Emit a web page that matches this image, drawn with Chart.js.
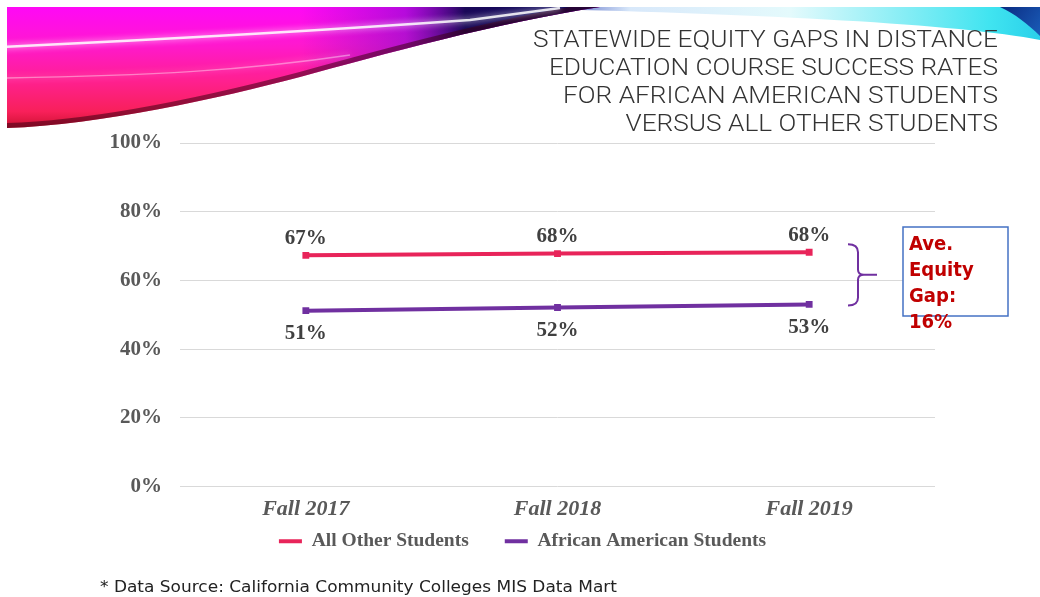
<!DOCTYPE html>
<html>
<head>
<meta charset="utf-8">
<script src="https://cdn.jsdelivr.net/npm/chart.js@4.4.0/dist/chart.umd.min.js"></script>
<style>
  html, body { margin: 0; padding: 0; background: #fff; overflow: hidden; }
</style>
</head>
<body>
<canvas id="chart" width="1040" height="597"></canvas>
<script>
// data
const categories = ['Fall 2017', 'Fall 2018', 'Fall 2019'];
const allOtherStudents = [67.3, 67.8, 68.2];
const africanAmericanStudents = [51.2, 52.1, 53.0];
const yTickStep = 20;
const titleLines = [
    'STATEWIDE EQUITY GAPS IN DISTANCE',
    'EDUCATION COURSE SUCCESS RATES',
    'FOR AFRICAN AMERICAN STUDENTS',
    'VERSUS ALL OTHER STUDENTS'
];
const gapLines = ['Ave.', 'Equity', 'Gap:', '16%'];
const sourceNote = '* Data Source: California Community Colleges MIS Data Mart';

const serif = '"Liberation Serif", "Times New Roman", serif';
const sans = '"DejaVu Sans", sans-serif';

// draw text squeezed/stretched horizontally
function fitText(ctx, text, x, y, scale) {
    ctx.save();
    ctx.translate(x, y);
    ctx.scale(scale, 1);
    ctx.fillText(text, 0, 0);
    ctx.restore();
}

function swooshEdge(ctx) {
    ctx.bezierCurveTo(500, 22, 380, 55, 300, 77);
    ctx.bezierCurveTo(220, 98, 100, 125, 7, 128);
}

// the coloured ribbon across the top of the slide
function drawBanner(ctx) {
    ctx.save();
    ctx.fillStyle = '#fff';
    ctx.fillRect(0, 0, 1040, 597);

    // thin light ribbon going right, cyan at the end
    let g = ctx.createLinearGradient(540, 0, 1040, 0);
    g.addColorStop(0, '#2a3cb0');
    g.addColorStop(0.18, '#d8e8fa');
    g.addColorStop(0.5, '#e4fafc');
    g.addColorStop(0.9, '#40e4f0');
    g.addColorStop(1, '#2ad0ea');
    ctx.fillStyle = g;
    ctx.beginPath();
    ctx.moveTo(540, 7);
    ctx.lineTo(1040, 7);
    ctx.lineTo(1040, 40);
    ctx.bezierCurveTo(960, 24, 760, 14, 540, 9);
    ctx.fill();

    // dark blue corner
    g = ctx.createLinearGradient(1000, 7, 1040, 36);
    g.addColorStop(0, '#0a2a80');
    g.addColorStop(1, '#1a5cb8');
    ctx.fillStyle = g;
    ctx.beginPath();
    ctx.moveTo(1000, 7);
    ctx.lineTo(1040, 7);
    ctx.lineTo(1040, 36);
    ctx.bezierCurveTo(1028, 24, 1015, 14, 1000, 7);
    ctx.fill();

    // main pink ribbon
    ctx.beginPath();
    ctx.moveTo(7, 7);
    ctx.lineTo(600, 7);
    swooshEdge(ctx);
    ctx.closePath();
    ctx.save();
    ctx.clip();
    g = ctx.createLinearGradient(0, 7, 0, 130);
    g.addColorStop(0, '#ff08f6');
    g.addColorStop(0.3, '#ff18d0');
    g.addColorStop(0.6, '#ff2090');
    g.addColorStop(0.85, '#f8205a');
    g.addColorStop(1, '#c8102c');
    ctx.fillStyle = g;
    ctx.fillRect(0, 0, 620, 140);
    // purple to navy toward the right
    g = ctx.createLinearGradient(300, 0, 600, 0);
    g.addColorStop(0, 'rgba(120,10,200,0)');
    g.addColorStop(0.35, 'rgba(110,10,200,0.5)');
    g.addColorStop(0.55, 'rgba(14,8,80,0.95)');
    g.addColorStop(1, '#0a0a60');
    ctx.fillStyle = g;
    ctx.fillRect(0, 0, 620, 140);
    // dark lower edge
    ctx.strokeStyle = 'rgba(60,0,20,0.55)';
    ctx.lineWidth = 10;
    ctx.beginPath();
    ctx.moveTo(600, 7);
    swooshEdge(ctx);
    ctx.stroke();
    // white light streaks
    ctx.strokeStyle = 'rgba(255,255,255,0.85)';
    ctx.lineWidth = 2.5;
    ctx.shadowColor = 'rgba(255,255,255,1)';
    ctx.shadowBlur = 6;
    ctx.beginPath();
    ctx.moveTo(0, 47);
    ctx.bezierCurveTo(150, 40, 330, 30, 470, 20);
    ctx.lineTo(560, 8);
    ctx.stroke();
    ctx.lineWidth = 1.5;
    ctx.strokeStyle = 'rgba(255,255,255,0.4)';
    ctx.beginPath();
    ctx.moveTo(0, 78);
    ctx.bezierCurveTo(150, 76, 250, 70, 350, 55);
    ctx.stroke();
    ctx.restore();
    ctx.restore();
}

const slideDecor = {
    id: 'slideDecor',
    beforeDraw(chart) {
        drawBanner(chart.ctx);
    },
    afterDraw(chart) {
        const ctx = chart.ctx;
        ctx.save();
        // title, right aligned
        ctx.fillStyle = '#333';
        ctx.font = '300 24px Roboto, ' + sans;
        ctx.textAlign = 'right';
        ctx.textBaseline = 'alphabetic';
        const s = 465 / ctx.measureText(titleLines[0]).width;
        titleLines.forEach((t, i) => fitText(ctx, t, 998, 47 + i * 28, s));

        // brace between the two lines
        const y = chart.scales.y;
        const top = y.getPixelForValue(allOtherStudents[2]) - 8;
        const bot = y.getPixelForValue(africanAmericanStudents[2]) + 1;
        const mid = (top + bot) / 2;
        const bx = 858;
        ctx.strokeStyle = '#7030a0';
        ctx.lineWidth = 2;
        ctx.beginPath();
        ctx.moveTo(848, top);
        ctx.quadraticCurveTo(bx, top, bx, top + 8);
        ctx.lineTo(bx, mid - 5);
        ctx.quadraticCurveTo(bx, mid, bx + 6, mid);
        ctx.lineTo(bx + 19, mid);
        ctx.moveTo(bx + 6, mid);
        ctx.quadraticCurveTo(bx, mid, bx, mid + 5);
        ctx.lineTo(bx, bot - 8);
        ctx.quadraticCurveTo(bx, bot, 848, bot);
        ctx.stroke();

        // gap box
        ctx.fillStyle = '#fff';
        ctx.fillRect(903, 227, 105, 89);
        ctx.strokeStyle = '#4472c4';
        ctx.lineWidth = 1.5;
        ctx.strokeRect(903, 227, 105, 89);
        ctx.fillStyle = '#c00000';
        ctx.font = 'bold 19px ' + sans;
        ctx.textAlign = 'left';
        ctx.textBaseline = 'middle';
        gapLines.forEach((t, i) => fitText(ctx, t, 909, 245 + i * 26, 0.95));

        // source note
        ctx.fillStyle = '#222';
        ctx.font = '15px ' + sans;
        const s2 = 517 / ctx.measureText(sourceNote).width;
        fitText(ctx, sourceNote, 100, 588, s2);
        ctx.restore();
    }
};

// pull the legend up closer to the axis labels
const legendNudge = {
    id: 'legendNudge',
    afterLayout(chart) {
        chart.legend.top -= 27;
        chart.legend.bottom -= 27;
    }
};

// percent labels: above the top line, below the bottom one
const valueLabels = {
    id: 'valueLabels',
    afterDatasetsDraw(chart) {
        const ctx = chart.ctx;
        ctx.save();
        ctx.font = 'bold 21px ' + serif;
        ctx.fillStyle = '#404040';
        ctx.textAlign = 'center';
        ctx.textBaseline = 'middle';
        chart.data.datasets.forEach((ds, i) => {
            chart.getDatasetMeta(i).data.forEach((pt, j) => {
                const dy = i === 0 ? -17 : 23;
                ctx.fillText(Math.round(ds.data[j]) + '%', pt.x, pt.y + dy);
            });
        });
        ctx.restore();
    }
};

new Chart(document.getElementById('chart').getContext('2d'), {
    type: 'line',
    data: {
        labels: categories,
        datasets: [{
            label: 'All Other Students',
            data: allOtherStudents,
            borderColor: '#e8245a',
            backgroundColor: '#e8245a',
            borderWidth: 4,
            pointRadius: 2,
            pointStyle: 'rect',
            tension: 0
        }, {
            label: 'African American Students',
            data: africanAmericanStudents,
            borderColor: '#7030a0',
            backgroundColor: '#7030a0',
            borderWidth: 4,
            pointRadius: 2,
            pointStyle: 'rect',
            tension: 0
        }]
    },
    plugins: [slideDecor, legendNudge, valueLabels],
    options: {
        responsive: false,
        devicePixelRatio: 1,
        animation: false,
        layout: { padding: { left: 110, right: 105, top: 143, bottom: 9 } },
        scales: {
            x: {
                offset: true,
                grid: { display: false, drawTicks: false },
                border: { display: false },
                ticks: {
                    color: '#595959',
                    padding: 10,
                    font: { family: serif, size: 22, weight: 'bold', style: 'italic' }
                },
                afterFit(s) { s.height = 36; }
            },
            y: {
                min: 0,
                max: 100,
                ticks: {
                    stepSize: yTickStep,
                    color: '#595959',
                    padding: 18,
                    font: { family: serif, size: 21, weight: 'bold' },
                    callback: v => v + '%'
                },
                grid: { color: '#d9d9d9', drawTicks: false },
                border: { display: false },
                afterFit(s) { s.width = 70; }
            }
        },
        plugins: {
            legend: {
                position: 'bottom',
                labels: {
                    usePointStyle: true,
                    pointStyle: 'line',
                    pointStyleWidth: 23,
                    color: '#595959',
                    padding: 36,
                    font: { family: serif, size: 19.5, weight: 'bold' }
                }
            },
            tooltip: { enabled: false }
        }
    }
});
</script>
</body>
</html>
